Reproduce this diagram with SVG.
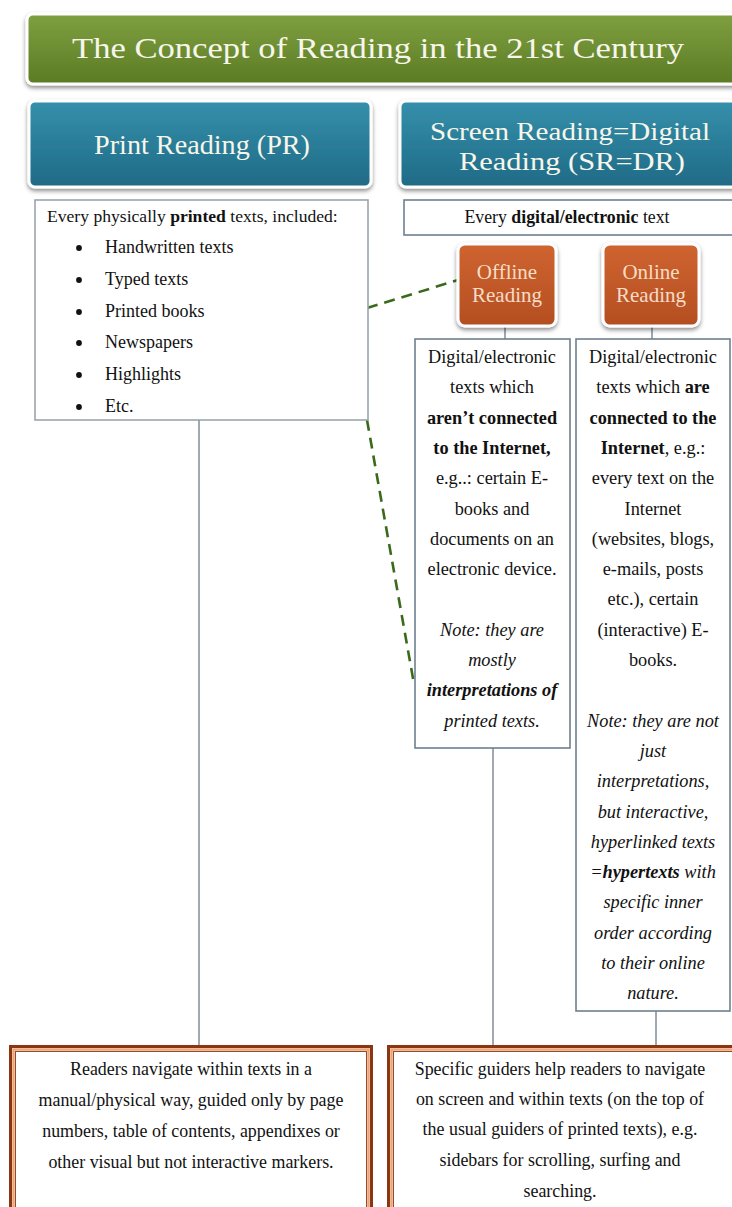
<svg xmlns="http://www.w3.org/2000/svg" width="732" height="1207" viewBox="0 0 732 1207" font-family="'Liberation Serif', 'Times New Roman', serif">
<defs>
<linearGradient id="gGreen" x1="0" y1="0" x2="0" y2="1"><stop offset="0" stop-color="#7fa040"/><stop offset="1" stop-color="#5b7b24"/></linearGradient>
<linearGradient id="gBlue" x1="0" y1="0" x2="0" y2="1"><stop offset="0" stop-color="#3590ab"/><stop offset="1" stop-color="#1f6a86"/></linearGradient>
<linearGradient id="gOrange" x1="0" y1="0" x2="0" y2="1"><stop offset="0" stop-color="#cf6430"/><stop offset="1" stop-color="#b44e22"/></linearGradient>
<filter id="sh" x="-10%" y="-10%" width="120%" height="130%"><feDropShadow dx="0" dy="2.5" stdDeviation="2" flood-color="#000" flood-opacity="0.45"/></filter>
<style>
.hdr{stroke:#fff;stroke-width:3}
.t{font-family:'Liberation Serif','Times New Roman',serif;fill:#111}
.c{text-anchor:middle}
.box{fill:#fff;stroke:#6f7f90;stroke-width:1.6}
.lst{fill:#fff;stroke:#9aa4ae;stroke-width:1.6}
.ln{stroke:#7f8d9a;stroke-width:1.5;fill:none}
.dash{stroke:#3a6a1c;stroke-width:2.6;stroke-dasharray:11 7;fill:none}
.hw{font-family:'Liberation Serif','Times New Roman',serif;fill:#f8f6ea;text-anchor:middle}
.ow{font-family:'Liberation Serif','Times New Roman',serif;fill:#f7dcc6;text-anchor:middle;font-size:21px}
</style>
</defs>

<g id="connectors">
<line class="ln" x1="199" y1="420" x2="199" y2="1046"/>
<line class="ln" x1="505" y1="326" x2="505" y2="339"/>
<line class="ln" x1="652" y1="326" x2="652" y2="339"/>
<line class="ln" x1="493" y1="748" x2="493" y2="1046"/>
<line class="ln" x1="656" y1="1011" x2="656" y2="1046"/>
<line class="dash" x1="367" y1="308" x2="458" y2="280"/>
<line class="dash" x1="367" y1="420" x2="414" y2="684"/>
</g>

<g id="title">
<rect class="hdr" x="27" y="14" width="720" height="70" rx="6" fill="url(#gGreen)" filter="url(#sh)"/>
<text class="hw" x="378" y="58" font-size="30" textLength="612" lengthAdjust="spacingAndGlyphs">The Concept of Reading in the 21st Century</text>
</g>

<g id="print-reading">
<rect class="hdr" x="29" y="101" width="342" height="86" rx="6" fill="url(#gBlue)" filter="url(#sh)"/>
<text class="hw" x="202" y="154" font-size="27" textLength="216" lengthAdjust="spacingAndGlyphs">Print Reading (PR)</text>
</g>

<g id="screen-reading">
<rect class="hdr" x="400" y="101" width="345" height="86" rx="6" fill="url(#gBlue)" filter="url(#sh)"/>
<text class="hw" x="570" y="140" font-size="26" textLength="280" lengthAdjust="spacingAndGlyphs">Screen Reading=Digital</text>
<text class="hw" x="572" y="170" font-size="26" textLength="226" lengthAdjust="spacingAndGlyphs">Reading (SR=DR)</text>
</g>

<g id="print-list">
<rect class="lst" x="35" y="200" width="333" height="220"/>
<text class="t" x="47" y="222" font-size="17.6">Every physically <tspan font-weight="bold">printed</tspan> texts, included:</text>
<circle cx="79" cy="248" r="2.9" fill="#111"/><text class="t" x="105" y="253" font-size="18">Handwritten texts</text>
<circle cx="79" cy="280" r="2.9" fill="#111"/><text class="t" x="105" y="285" font-size="18">Typed texts</text>
<circle cx="79" cy="312" r="2.9" fill="#111"/><text class="t" x="105" y="317" font-size="18">Printed books</text>
<circle cx="79" cy="343" r="2.9" fill="#111"/><text class="t" x="105" y="348" font-size="18">Newspapers</text>
<circle cx="79" cy="375" r="2.9" fill="#111"/><text class="t" x="105" y="380" font-size="18">Highlights</text>
<circle cx="79" cy="407" r="2.9" fill="#111"/><text class="t" x="105" y="412" font-size="18">Etc.</text>
</g>

<g id="digital-text">
<rect class="box" x="404" y="200" width="336" height="35"/>
<text class="t c" x="567" y="223" font-size="17.8">Every <tspan font-weight="bold">digital/electronic</tspan> text</text>
</g>

<g id="offline-reading">
<rect class="hdr" x="458" y="244" width="98" height="82" rx="7" fill="url(#gOrange)" filter="url(#sh)"/>
<text class="ow" x="507" y="279">Offline</text>
<text class="ow" x="507" y="302">Reading</text>
</g>

<g id="online-reading">
<rect class="hdr" x="603" y="244" width="96" height="82" rx="7" fill="url(#gOrange)" filter="url(#sh)"/>
<text class="ow" x="651" y="279">Online</text>
<text class="ow" x="651" y="302">Reading</text>
</g>

<g id="offline-text">
<rect class="box" x="415" y="339" width="155" height="409"/>
<g class="t c" font-size="18.3">
<text x="492" y="363">Digital/electronic</text>
<text x="492" y="393.3">texts which</text>
<text x="492" y="423.6" font-weight="bold">aren’t connected</text>
<text x="492" y="453.9" font-weight="bold">to the Internet,</text>
<text x="492" y="484.2">e.g..: certain E-</text>
<text x="492" y="514.5">books and</text>
<text x="492" y="544.8">documents on an</text>
<text x="492" y="575.1">electronic device.</text>
<text x="492" y="635.7" font-style="italic">Note: they are</text>
<text x="492" y="666" font-style="italic">mostly</text>
<text x="492" y="696.3" font-style="italic" font-weight="bold">interpretations of</text>
<text x="492" y="726.6" font-style="italic">printed texts.</text>
</g>
</g>

<g id="online-text">
<rect class="box" x="576" y="339" width="154" height="672"/>
<g class="t c" font-size="18.3">
<text x="653" y="363">Digital/electronic</text>
<text x="653" y="393.3">texts which <tspan font-weight="bold">are</tspan></text>
<text x="653" y="423.6" font-weight="bold">connected to the</text>
<text x="653" y="453.9"><tspan font-weight="bold">Internet</tspan>, e.g.:</text>
<text x="653" y="484.2">every text on the</text>
<text x="653" y="514.5">Internet</text>
<text x="653" y="544.8">(websites, blogs,</text>
<text x="653" y="575.1">e-mails, posts</text>
<text x="653" y="605.4">etc.), certain</text>
<text x="653" y="635.7">(interactive) E-</text>
<text x="653" y="666">books.</text>
<g font-style="italic">
<text x="653" y="726.6">Note: they are not</text>
<text x="653" y="756.9">just</text>
<text x="653" y="787.2">interpretations,</text>
<text x="653" y="817.5">but interactive,</text>
<text x="653" y="847.8">hyperlinked texts</text>
<text x="653" y="878.1">=<tspan font-weight="bold">hypertexts</tspan> with</text>
<text x="653" y="908.4">specific inner</text>
<text x="653" y="938.7">order according</text>
<text x="653" y="969">to their online</text>
<text x="653" y="999.3">nature.</text>
</g>
</g>
</g>

<g id="print-navigation">
<rect x="10.5" y="1046.5" width="361" height="170" fill="#fff" stroke="#8c3511" stroke-width="3"/>
<rect x="13.5" y="1049.5" width="355" height="164" fill="none" stroke="#e9a57c" stroke-width="2.5"/>
<rect x="15.5" y="1051.5" width="351" height="160" fill="none" stroke="#9a4a22" stroke-width="1"/>
<g class="t c" font-size="17.9">
<text x="191" y="1075">Readers navigate within texts in a</text>
<text x="191" y="1106">manual/physical way, guided only by page</text>
<text x="191" y="1137">numbers, table of contents, appendixes or</text>
<text x="191" y="1168">other visual but not interactive markers.</text>
</g>
</g>

<g id="screen-navigation">
<rect x="388.5" y="1046.5" width="361" height="170" fill="#fff" stroke="#8c3511" stroke-width="3"/>
<rect x="391.5" y="1049.5" width="355" height="164" fill="none" stroke="#e9a57c" stroke-width="2.5"/>
<rect x="393.5" y="1051.5" width="351" height="160" fill="none" stroke="#9a4a22" stroke-width="1"/>
<g class="t c" font-size="17.9">
<text x="560" y="1075">Specific guiders help readers to navigate</text>
<text x="560" y="1105">on screen and within texts (on the top of</text>
<text x="560" y="1135">the usual guiders of printed texts), e.g.</text>
<text x="560" y="1166">sidebars for scrolling, surfing and</text>
<text x="560" y="1197">searching.</text>
</g>
</g>
</svg>
